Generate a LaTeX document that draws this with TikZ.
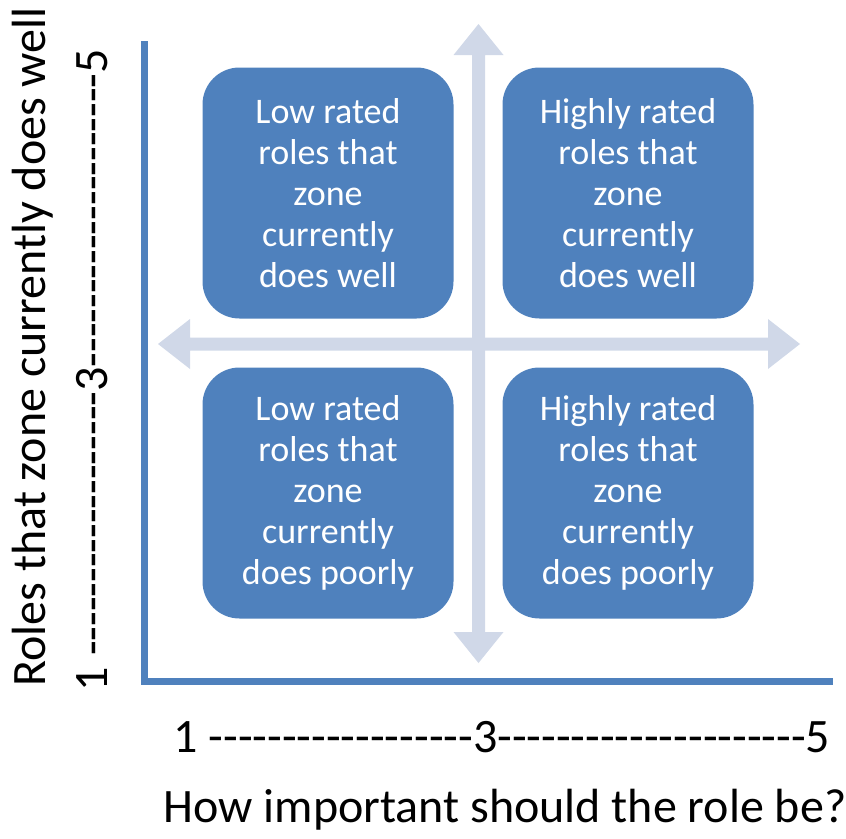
\documentclass[tikz,border=0pt]{standalone}
\usepackage{fontspec}
\setmainfont{Carlito}
\newfontfamily\plainfont{Carlito}
\definecolor{boxblue}{HTML}{4F81BD}
\definecolor{arrowgray}{HTML}{D0D8E8}
\begin{document}
\begin{tikzpicture}[x=1pt,y=-1pt,
  quad/.style={fill=boxblue,draw=none,rounded corners=37pt,minimum width=251pt,minimum height=251pt,inner sep=0pt,align=center,text=white,font=\fontsize{36}{41}\selectfont},
  axistitle/.style={font=\fontsize{48}{58}\selectfont,inner sep=0pt,anchor=base},
  ticklabel/.style={font=\plainfont\fontsize{48}{58}\selectfont,inner sep=0pt,anchor=base},
  axisline/.style={draw=boxblue,line width=7pt,line join=miter}]
\useasboundingbox (0,0) rectangle (846,838);
% axes
\coordinate (ytop) at (144,41);
\coordinate (origin) at (144,681);
\coordinate (xend) at (833,681);
\draw[axisline] (ytop) -- (origin) -- (xend);
% cross arrows
\fill[arrowgray] (478.5,24) -- (503.5,55) -- (485,55) -- (485,632) -- (503.5,632) -- (478.5,663) -- (453.5,632) -- (472,632) -- (472,55) -- (453.5,55) -- cycle;
\fill[arrowgray] (158,344) -- (190,319) -- (190,337.5) -- (768,337.5) -- (768,319) -- (800,344) -- (768,369) -- (768,350.5) -- (190,350.5) -- (190,369) -- cycle;
% quadrant boxes
\node[quad] (tl) at (328,193) {Low rated\\roles that\\zone\\currently\\does well};
\node[quad] (tr) at (628,193) {Highly rated\\roles that\\zone\\currently\\does well};
\node[quad] (bl) at (328,493) {Low rated\\roles that\\zone\\currently\\does poorly};
\node[quad] (br) at (628,493) {Highly rated\\roles that\\zone\\currently\\does poorly};
% axis labels
\node[ticklabel] (xticks) at (502,752) {1 ------------------3---------------------5};
\node[ticklabel,rotate=90] (yticks) at (107,370) {1 ------------------3--------------------5};
\node[axistitle] (xtitle) at (505,822) {How important should the role be?};
\node[axistitle,rotate=90] (ytitle) at (45,347) {Roles that zone currently does well};
\end{tikzpicture}
\end{document}
